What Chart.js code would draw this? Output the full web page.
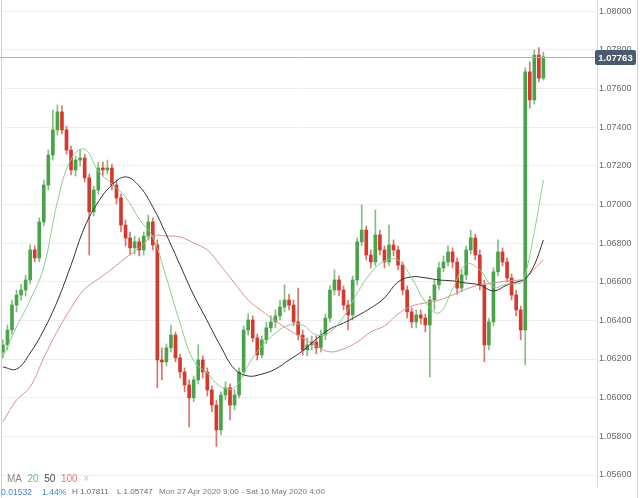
<!DOCTYPE html>
<html>
<head>
<meta charset="utf-8">
<script src="https://cdn.jsdelivr.net/npm/chart.js@4/dist/chart.umd.min.js"></script>
<style>
html,body{margin:0;padding:0;background:#fff;}
#wrap{position:relative;width:640px;height:498px;overflow:hidden;background:#fff;}
#c{position:absolute;left:0;top:0;}
.t{position:absolute;font-family:"Liberation Sans",Arial,sans-serif;white-space:nowrap;line-height:1;}
</style>
</head>
<body>
<div id="wrap">
<canvas id="c" width="640" height="498"></canvas>
<div class="t" style="left:7px;top:474px;font-size:10px;color:#8a8a8a">MA&nbsp; <span style="color:#7dbb7d">20</span>&nbsp; <span style="color:#4a4a4a">50</span>&nbsp; <span style="color:#d97b7b">100</span>&nbsp; <span style="color:#c0c0c0">×</span></div>
<div class="t" id="chg" style="left:1px;top:488px;font-size:8.6px;color:#4b86cf"></div>
<div class="t" id="pct" style="left:42px;top:488px;font-size:8.6px;color:#4b86cf"></div>
<div class="t" id="hi" style="left:72px;top:488px;font-size:8.1px;color:#666"></div>
<div class="t" id="lo" style="left:117px;top:488px;font-size:8.1px;color:#666"></div>
<div class="t" id="rng" style="left:159px;top:488px;font-size:8.1px;color:#777"></div>
</div>
<script>
// ---- data ----
const opens  = [1.06237,1.06273,1.06350,1.06479,1.06531,1.06557,1.06609,1.06764,1.06723,1.06909,
1.07100,1.07255,1.07385,1.07478,1.07385,1.07281,1.07178,1.07229,1.07240,1.07137,
1.06961,1.07074,1.07188,1.07178,1.07188,1.07100,1.07033,1.06893,1.06826,1.06775,
1.06806,1.06764,1.06836,1.06909,1.06790,1.06195,1.06185,1.06258,1.06324,1.06206,
1.06133,1.06066,1.05999,1.06092,1.06195,1.06133,1.06040,1.05962,1.05833,1.06014,
1.06051,1.05962,1.06014,1.06133,1.06350,1.06402,1.06309,1.06221,1.06299,1.06361,
1.06392,1.06423,1.06469,1.06505,1.06479,1.06392,1.06324,1.06247,1.06273,1.06288,
1.06258,1.06324,1.06412,1.06557,1.06609,1.06557,1.06479,1.06428,1.06609,1.06806,
1.06867,1.06738,1.06702,1.06842,1.06764,1.06702,1.06790,1.06764,1.06686,1.06557,
1.06444,1.06392,1.06428,1.06412,1.06376,1.06505,1.06583,1.06671,1.06702,1.06754,
1.06702,1.06567,1.06635,1.06764,1.06826,1.06738,1.06583,1.06273,1.06392,1.06651,
1.06754,1.06702,1.06619,1.06531,1.06454,1.06350,1.07685,1.07540,1.07772,1.07653];
const highs  = [1.06299,1.06376,1.06505,1.06557,1.06588,1.06635,1.06790,1.06785,1.06930,1.07126,
1.07281,1.07488,1.07514,1.07509,1.07405,1.07302,1.07250,1.07281,1.07260,1.07157,
1.07095,1.07219,1.07219,1.07229,1.07208,1.07126,1.07053,1.06919,1.06857,1.06836,
1.06826,1.06857,1.06945,1.06930,1.06816,1.06258,1.06278,1.06376,1.06340,1.06226,
1.06154,1.06092,1.06112,1.06273,1.06216,1.06154,1.06061,1.05988,1.06030,1.06082,
1.06071,1.06040,1.06154,1.06371,1.06433,1.06423,1.06329,1.06319,1.06392,1.06423,
1.06454,1.06505,1.06583,1.06536,1.06505,1.06567,1.06350,1.06309,1.06319,1.06319,
1.06350,1.06433,1.06578,1.06661,1.06630,1.06578,1.06505,1.06630,1.06826,1.06997,
1.06888,1.06764,1.06971,1.06867,1.06785,1.06893,1.06816,1.06785,1.06702,1.06578,
1.06464,1.06454,1.06454,1.06433,1.06526,1.06609,1.06702,1.06733,1.06785,1.06775,
1.06723,1.06661,1.06785,1.06867,1.06846,1.06764,1.06609,1.06412,1.06671,1.06816,
1.06775,1.06723,1.06640,1.06557,1.06474,1.07706,1.07737,1.07798,1.07811,1.07788];
const lows   = [1.06206,1.06247,1.06329,1.06444,1.06505,1.06526,1.06588,1.06702,1.06702,1.06888,
1.07074,1.07229,1.07359,1.07364,1.07260,1.07152,1.07147,1.07198,1.07116,1.06738,
1.06940,1.07053,1.07147,1.07157,1.07074,1.07002,1.06857,1.06785,1.06738,1.06743,
1.06733,1.06738,1.06816,1.06764,1.06051,1.06092,1.06164,1.06237,1.06185,1.06102,
1.06030,1.05849,1.05978,1.06071,1.06102,1.06009,1.05927,1.05747,1.05807,1.05988,
1.05885,1.05937,1.05999,1.06112,1.06324,1.06289,1.06195,1.06206,1.06278,1.06340,
1.06361,1.06402,1.06444,1.06454,1.06371,1.06299,1.06221,1.06216,1.06247,1.06226,
1.06237,1.06299,1.06392,1.06531,1.06526,1.06454,1.06350,1.06402,1.06583,1.06785,
1.06712,1.06671,1.06681,1.06738,1.06671,1.06681,1.06733,1.06661,1.06531,1.06412,
1.06361,1.06361,1.06381,1.06340,1.06107,1.06454,1.06557,1.06651,1.06681,1.06671,
1.06536,1.06547,1.06609,1.06743,1.06712,1.06557,1.06185,1.06247,1.06371,1.06630,
1.06681,1.06598,1.06505,1.06423,1.06299,1.06169,1.07498,1.07519,1.07633,1.07643];
const closes = [1.06273,1.06350,1.06479,1.06531,1.06557,1.06609,1.06764,1.06723,1.06909,1.07100,
1.07255,1.07385,1.07478,1.07385,1.07281,1.07178,1.07229,1.07240,1.07137,1.06961,
1.07074,1.07188,1.07178,1.07188,1.07100,1.07033,1.06893,1.06826,1.06775,1.06806,
1.06764,1.06836,1.06909,1.06790,1.06195,1.06185,1.06258,1.06324,1.06206,1.06133,
1.06066,1.05999,1.06092,1.06195,1.06133,1.06040,1.05962,1.05833,1.06014,1.06051,
1.05962,1.06014,1.06133,1.06350,1.06402,1.06309,1.06221,1.06299,1.06361,1.06392,
1.06423,1.06469,1.06505,1.06479,1.06392,1.06324,1.06247,1.06273,1.06288,1.06258,
1.06324,1.06412,1.06557,1.06609,1.06557,1.06479,1.06428,1.06609,1.06806,1.06867,
1.06738,1.06702,1.06842,1.06764,1.06702,1.06790,1.06764,1.06686,1.06557,1.06444,
1.06392,1.06428,1.06412,1.06376,1.06505,1.06583,1.06671,1.06702,1.06754,1.06702,
1.06567,1.06635,1.06764,1.06826,1.06738,1.06583,1.06273,1.06392,1.06651,1.06754,
1.06702,1.06619,1.06531,1.06454,1.06350,1.07685,1.07540,1.07772,1.07653,1.07763];

// moving averages, read at these candle positions
const maIndex = [0,3,6,9,12,15,18,21,24,27,30,33,36,39,42,45,48,51,54,57,60,63,66,69,72,75,78,81,84,87,90,93,96,99,102,105,108,111,114,115,117,119];
const ma20  = [1.06211,1.06366,1.06505,1.06676,1.07013,1.07234,1.07286,1.07173,1.07105,1.07038,1.06924,1.06831,1.06620,1.06386,1.06190,1.06127,1.06056,1.06051,1.06169,1.06268,1.06334,1.06376,1.06376,1.06324,1.06340,1.06418,1.06541,1.06645,1.06707,1.06712,1.06620,1.06495,1.06438,1.06562,1.06691,1.06661,1.06573,1.06588,1.06593,1.06635,1.06857,1.07126];
const ma50  = [1.06159,1.06148,1.06231,1.06350,1.06500,1.06686,1.06883,1.07013,1.07100,1.07142,1.07095,1.06987,1.06842,1.06686,1.06531,1.06397,1.06263,1.06148,1.06112,1.06122,1.06148,1.06195,1.06242,1.06303,1.06355,1.06386,1.06423,1.06464,1.06516,1.06599,1.06625,1.06620,1.06609,1.06604,1.06593,1.06583,1.06552,1.06583,1.06604,1.06614,1.06686,1.06816];
const ma100 = [1.05875,1.05988,1.06056,1.06206,1.06345,1.06464,1.06562,1.06614,1.06666,1.06723,1.06774,1.06836,1.06836,1.06831,1.06800,1.06764,1.06681,1.06593,1.06505,1.06449,1.06397,1.06350,1.06309,1.06268,1.06237,1.06252,1.06288,1.06340,1.06371,1.06433,1.06474,1.06490,1.06505,1.06531,1.06562,1.06583,1.06593,1.06604,1.06609,1.06614,1.06666,1.06712];

const yTicks = [1.056,1.058,1.060,1.062,1.064,1.066,1.068,1.070,1.072,1.074,1.076,1.078,1.080];
const dayBreakIndex = 34;   // the single vertical time gridline
const changeText = "0.01532";
const changePct  = "1.44%";
const highText   = "H 1.07811";
const lowText    = "L 1.05747";
const rangeText  = "Mon 27 Apr 2020 9:00 - Sat 16 May 2020 4:00";

document.getElementById('chg').textContent = changeText;
document.getElementById('pct').textContent = changePct;
document.getElementById('hi').textContent = highText;
document.getElementById('lo').textContent = lowText;
document.getElementById('rng').textContent = rangeText;

// ---- build ----
const upBody = '#4aa24a', downBody = '#d5392e';
const upWick = 'rgba(100,175,100,0.8)', downWick = 'rgba(214,80,70,0.8)';
const idx = opens.map((_, i) => i);
const isUp = idx.map(i => closes[i] >= opens[i]);
const wickData = idx.map(i => ({x: i, y: [lows[i], highs[i]]}));
const bodyData = idx.map(i => ({x: i, y: [opens[i], closes[i]]}));
const maLine = arr => maIndex.map((x, k) => ({x: x, y: arr[k]}));
const lastPrice = closes[closes.length - 1];

Chart.defaults.font.family = '"Liberation Sans", Arial, sans-serif';

const overlay = {
  id: 'overlay',
  afterDraw(chart) {
    const ctx = chart.ctx, a = chart.chartArea;
    const y = Math.round(chart.scales.y.getPixelForValue(lastPrice)) + 0.5;
    ctx.save();
    ctx.strokeStyle = '#b2b2b2';
    ctx.lineWidth = 1;
    ctx.beginPath(); ctx.moveTo(0, y); ctx.lineTo(a.right, y); ctx.stroke();
    const x0 = a.right - 2, w = 41, h = 15;
    ctx.fillStyle = '#4b5a6f';
    ctx.beginPath();
    if (ctx.roundRect) ctx.roundRect(x0, y - 7.5, w, h, 2); else ctx.rect(x0, y - 7.5, w, h);
    ctx.fill();
    ctx.fillStyle = '#ffffff';
    ctx.font = 'bold 9.5px "Liberation Sans", Arial, sans-serif';
    ctx.textAlign = 'center'; ctx.textBaseline = 'middle';
    ctx.fillText(lastPrice.toFixed(5), x0 + w / 2, y + 0.5);
    ctx.strokeStyle = '#cfcfcf';
    ctx.beginPath(); ctx.moveTo(1.5, 0); ctx.lineTo(1.5, chart.height); ctx.stroke();
    ctx.beginPath(); ctx.moveTo(637.5, 0); ctx.lineTo(637.5, chart.height); ctx.stroke();
    ctx.restore();
  }
};

new Chart(document.getElementById('c'), {
  type: 'bar',
  data: {
    datasets: [
      {type: 'line', label: 'MA 20', data: maLine(ma20), borderColor: '#8fcb8f', borderWidth: 1, pointRadius: 0, tension: 0.4, order: 0},
      {type: 'line', label: 'MA 50', data: maLine(ma50), borderColor: '#333333', borderWidth: 1, pointRadius: 0, tension: 0.4, order: 0},
      {type: 'line', label: 'MA 100', data: maLine(ma100), borderColor: '#dc8f8f', borderWidth: 1, pointRadius: 0, tension: 0.4, order: 0},
      {label: 'body', data: bodyData, backgroundColor: isUp.map(u => u ? upBody : downBody), barThickness: 3, grouped: false, borderWidth: 0, order: 1},
      {label: 'wick', data: wickData, backgroundColor: isUp.map(u => u ? upWick : downWick), barThickness: 1, grouped: false, borderWidth: 0, order: 2}
    ]
  },
  options: {
    responsive: false,
    animation: false,
    layout: {padding: {left: 2, top: 0, right: 0, bottom: 0}},
    plugins: {legend: {display: false}, tooltip: {enabled: false}},
    scales: {
      x: {
        type: 'linear', min: -0.2, max: 130.8, offset: false,
        grid: {color: '#dadada', drawTicks: false},
        border: {display: false},
        ticks: {display: false},
        afterBuildTicks: s => { s.ticks = [{value: dayBreakIndex}]; },
        afterFit: s => { s.height = 11; s.paddingLeft = 0; s.paddingRight = 0; }
      },
      y: {
        position: 'right', min: 1.05538, max: 1.08057,
        grid: {color: '#eeeeee', drawTicks: false},
        border: {display: false},
        ticks: {padding: 2, color: '#6a6a6a', font: {size: 9}, callback: v => Number(v).toFixed(5)},
        afterBuildTicks: s => { s.ticks = yTicks.map(v => ({value: v})); },
        afterFit: s => { s.width = 43; s.paddingTop = 0; s.paddingBottom = 0; }
      }
    }
  },
  plugins: [overlay]
});
</script>
</body>
</html>
